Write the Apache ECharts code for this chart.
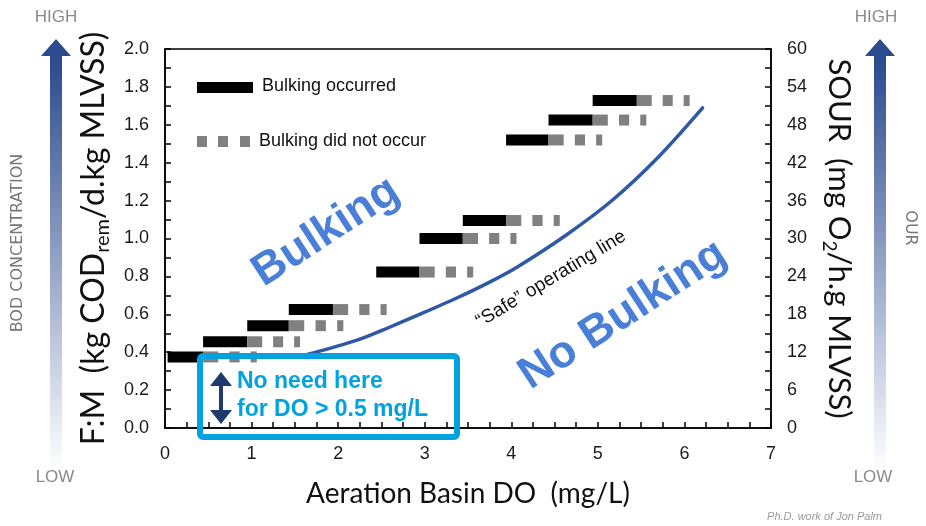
<!DOCTYPE html>
<html><head><meta charset="utf-8">
<script src="https://cdn.jsdelivr.net/npm/echarts@6/dist/echarts.min.js"></script>
<style>html,body{margin:0;padding:0;background:#fff}#c{width:926px;height:526px}</style>
</head><body><div id="c"></div>
<script>
// Bars: F:M level, black segment (bulking occurred) from start to split, grey dashed (did not occur) from split to grayEnd
const barFM      = [0.375, 0.455, 0.54, 0.625, 0.823, 1.0, 1.095, 1.52, 1.625, 1.728];
const barStart   = [0.03, 0.44, 0.95, 1.43, 2.44, 2.94, 3.44, 3.94, 4.43, 4.94];
const barSplit   = [0.44, 0.95, 1.43, 1.94, 2.94, 3.44, 3.94, 4.43, 4.94, 5.45];
const barGrayEnd = [1.06, 1.56, 2.06, 2.56, 3.56, 4.06, 4.56, 5.05, 5.56, 6.06];
// "Safe" operating line
const curveDO = [1.62, 2.22, 2.60, 2.98, 3.37, 3.75, 4.07, 4.64, 5.17, 5.70, 6.21];
const curveFM = [0.385, 0.464, 0.533, 0.607, 0.686, 0.770, 0.850, 1.020, 1.203, 1.430, 1.689];

const chart = echarts.init(document.getElementById('c'), null, {renderer: 'canvas'});
const tickFont = {fontFamily: 'Liberation Sans', fontSize: 18, color: '#1a1a1a'};
const nameFont = 'Lato';
const arrowFill = {type: 'linear', x: 0, y: 0, x2: 0, y2: 1, colorStops: [
  {offset: 0, color: '#2B4A8E'}, {offset: 0.06, color: '#2E4C8F'}, {offset: 1, color: '#ffffff'}]};
function arrowPts(cx) {
  return [[cx, 39], [cx + 15, 56], [cx + 6, 56], [cx + 6, 470], [cx - 6, 470], [cx - 6, 56], [cx - 15, 56]];
}
function makeAxis(extra, minorSplit) {
  return Object.assign({
    axisLine: {show: true, lineStyle: {color: '#000', width: 1.5}},
    axisTick: {show: true, inside: true, length: 6, lineStyle: {color: '#000', width: 1.5}},
    minorTick: {show: true, splitNumber: minorSplit, length: 6, lineStyle: {color: '#000', width: 1.5}},
    splitLine: {show: false}
  }, extra);
}
function nameRich(size) {
  return {
    a: {fontFamily: nameFont, fontSize: size, color: '#111'},
    s: {fontFamily: nameFont, fontSize: Math.round(size * 0.62), color: '#111', verticalAlign: 'bottom', padding: [Math.round(size * 0.58), 0, 0, 0]}
  };
}

const option = {
  animation: false,
  grid: {left: 165, right: 155, top: 49, bottom: 98, show: true, borderColor: '#000', borderWidth: 1.5},
  xAxis: makeAxis({
    type: 'value', min: 0, max: 7, interval: 1,
    axisLabel: Object.assign({margin: 17}, tickFont),
    name: 'Aeration Basin DO  (mg/L)', nameLocation: 'middle', nameGap: 52,
    nameTextStyle: {fontFamily: nameFont, fontSize: 28, color: '#111'}
  }, 4),
  yAxis: [
    makeAxis({
      type: 'value', min: 0, max: 2, interval: 0.2, position: 'left',
      axisLabel: Object.assign({margin: 16, formatter: v => v.toFixed(1)}, tickFont),
      name: '{a|F:M  (kg COD}{s|rem}{a|/d.kg MLVSS)}', nameLocation: 'middle', nameGap: 52, nameRotate: 90,
      nameTextStyle: {rich: nameRich(32)}
    }, 2),
    makeAxis({
      type: 'value', min: 0, max: 60, interval: 6, position: 'right',
      axisLabel: Object.assign({margin: 16}, tickFont),
      name: '{a|SOUR  (mg O}{s|2}{a|/h.g MLVSS)}', nameLocation: 'middle', nameGap: 49, nameRotate: -90,
      nameTextStyle: {rich: nameRich(31)}
    }, 2)
  ],
  series: [
    {
      type: 'custom', name: 'bars', xAxisIndex: 0, yAxisIndex: 0, z: 3,
      data: barStart.map((v, i) => [v, barSplit[i], barGrayEnd[i], barFM[i]]),
      encode: {x: [0, 1, 2], y: 3},
      renderItem: function (params, api) {
        const y = api.value(3);
        const s = api.coord([api.value(0), y]);
        const m = api.coord([api.value(1), y]);
        const e = api.coord([api.value(2), y]);
        const h = 11, L = e[0] - m[0];
        const segs = [[0, 0.283], [0.49, 0.68], [0.887, 1]];
        const children = [{type: 'rect', shape: {x: s[0], y: s[1] - h / 2, width: m[0] - s[0], height: h}, style: {fill: '#000'}}];
        segs.forEach(([a, b]) => children.push({type: 'rect',
          shape: {x: m[0] + a * L, y: m[1] - h / 2, width: (b - a) * L, height: h}, style: {fill: '#808080'}}));
        return {type: 'group', children: children};
      }
    },
    {
      type: 'line', name: 'safe', xAxisIndex: 0, yAxisIndex: 0, z: 4,
      data: curveDO.map((v, i) => [v, curveFM[i]]),
      smooth: 0.3, showSymbol: false, symbol: 'none',
      lineStyle: {color: '#2F58A6', width: 3.5, cap: 'round'}
    }
  ],
  graphic: [
    // left gradient arrow
    {type: 'polygon', shape: {points: arrowPts(56)}, style: {fill: arrowFill}, z: 10},
    {type: 'text', x: 56, y: 17, style: {text: 'HIGH', fill: '#8a8a8a', font: '17px "Liberation Sans"', textAlign: 'center', textVerticalAlign: 'middle'}, z: 10},
    {type: 'text', x: 55, y: 477, style: {text: 'LOW', fill: '#8a8a8a', font: '17px "Liberation Sans"', textAlign: 'center', textVerticalAlign: 'middle'}, z: 10},
    {type: 'text', x: 18, y: 243, rotation: Math.PI / 2, style: {text: 'BOD CONCENTRATION', fill: '#777', font: '16px "DejaVu Sans"', textAlign: 'center', textVerticalAlign: 'middle'}, z: 10},
    // right gradient arrow
    {type: 'polygon', shape: {points: arrowPts(880)}, style: {fill: arrowFill}, z: 10},
    {type: 'text', x: 876, y: 17, style: {text: 'HIGH', fill: '#8a8a8a', font: '17px "Liberation Sans"', textAlign: 'center', textVerticalAlign: 'middle'}, z: 10},
    {type: 'text', x: 873, y: 477, style: {text: 'LOW', fill: '#8a8a8a', font: '17px "Liberation Sans"', textAlign: 'center', textVerticalAlign: 'middle'}, z: 10},
    {type: 'text', x: 910, y: 228, rotation: -Math.PI / 2, style: {text: 'OUR', fill: '#777', font: '16px "DejaVu Sans"', textAlign: 'center', textVerticalAlign: 'middle'}, z: 10},
    // legend
    {type: 'rect', shape: {x: 197, y: 82, width: 56, height: 11}, style: {fill: '#000'}, z: 10},
    {type: 'text', x: 262, y: 86, style: {text: 'Bulking occurred', fill: '#111', font: '18px "Liberation Sans"', textVerticalAlign: 'middle'}, z: 10},
    {type: 'rect', shape: {x: 197, y: 136, width: 10, height: 11}, style: {fill: '#808080'}, z: 10},
    {type: 'rect', shape: {x: 218, y: 136, width: 10, height: 11}, style: {fill: '#808080'}, z: 10},
    {type: 'rect', shape: {x: 240, y: 136, width: 10, height: 11}, style: {fill: '#808080'}, z: 10},
    {type: 'text', x: 259, y: 141, style: {text: 'Bulking did not occur', fill: '#111', font: '18px "Liberation Sans"', textVerticalAlign: 'middle'}, z: 10},
    // region labels
    {type: 'text', x: 326, y: 232, rotation: 33 * Math.PI / 180, style: {text: 'Bulking', fill: '#4A7FD8', font: 'bold 45px "Liberation Sans"', textAlign: 'center', textVerticalAlign: 'middle'}, z: 10},
    {type: 'text', x: 623, y: 315, rotation: 33 * Math.PI / 180, style: {text: 'No Bulking', fill: '#4A7FD8', font: 'bold 45px "Liberation Sans"', textAlign: 'center', textVerticalAlign: 'middle'}, z: 10},
    {type: 'text', x: 551, y: 279, rotation: 31 * Math.PI / 180, style: {text: '\u201CSafe\u201D operating line', fill: '#111', font: '19px "Liberation Sans"', textAlign: 'center', textVerticalAlign: 'middle'}, z: 10},
    // DO box
    {type: 'rect', shape: {x: 200, y: 356, width: 257, height: 81, r: 3}, style: {fill: 'none', stroke: '#00A3E0', lineWidth: 6}, z: 11},
    {type: 'polygon', shape: {points: [[221, 372], [232, 386], [223, 386], [223, 410], [232, 410], [221, 424], [210, 410], [219, 410], [219, 386], [210, 386]]}, style: {fill: '#1F3A6E'}, z: 11},
    {type: 'text', x: 237, y: 382, style: {text: 'No need here', fill: '#00A3E0', font: 'bold 23px "Liberation Sans"', textVerticalAlign: 'middle'}, z: 11},
    {type: 'text', x: 237, y: 410, style: {text: 'for DO > 0.5 mg/L', fill: '#00A3E0', font: 'bold 23px "Liberation Sans"', textVerticalAlign: 'middle'}, z: 11},
    // credit
    {type: 'text', x: 882, y: 517, style: {text: 'Ph.D. work of Jon Palm', fill: '#9a9a9a', font: 'italic 11px "Liberation Sans"', textAlign: 'right', textVerticalAlign: 'middle'}, z: 10}
  ]
};
chart.setOption(option);
</script></body></html>
